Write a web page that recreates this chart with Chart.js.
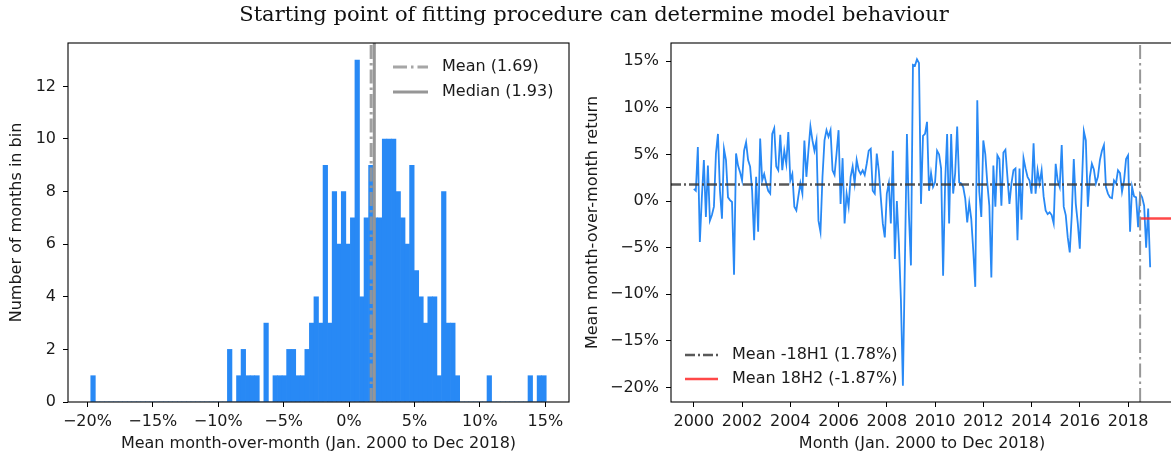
<!DOCTYPE html>
<html>
<head>
<meta charset="utf-8">
<script src="https://cdn.jsdelivr.net/npm/chart.js@4.4.1/dist/chart.umd.min.js"></script>
<style>
  html, body { margin: 0; padding: 0; background: #fff; overflow: hidden; width: 1171px; height: 457px; }
  .panel { position: absolute; top: 0; }
  #title { position: absolute; left: 0; top: 2px; width: 1188px; text-align: center;
           font-family: 'DejaVu Serif', serif; font-size: 21px; color: #111; white-space: nowrap; }
</style>
</head>
<body>
<div class="panel" style="left:0"><canvas id="hist" width="590" height="457"></canvas></div>
<div class="panel" style="left:576px"><canvas id="line" width="610" height="457"></canvas></div>
<div id="title">Starting point of fitting procedure can determine model behaviour</div>

<script>
// ---- left panel: histogram of the monthly changes (100 bins) ----
const histBinStart = -19.74;
const histBinWidth = 0.3481;
const histCounts = [
  1, 0, 0, 0, 0, 0, 0, 0, 0, 0,
  0, 0, 0, 0, 0, 0, 0, 0, 0, 0,
  0, 0, 0, 0, 0, 0, 0, 0, 0, 0,
  2, 0, 1, 2, 1, 1, 1, 0, 3, 0,
  1, 1, 1, 2, 2, 1, 1, 2, 3, 4,
  3, 9, 3, 8, 6, 8, 6, 7, 13, 4,
  7, 9, 7, 7, 10, 10, 10, 8, 7, 6,
  9, 5, 4, 3, 4, 4, 1, 8, 3, 3,
  1, 0, 0, 0, 0, 0, 0, 1, 0, 0,
  0, 0, 0, 0, 0, 0, 1, 0, 1, 1
];
const histMean = 1.69;
const histMedian = 1.93;
const histXTicks = [-20, -15, -10, -5, 0, 5, 10, 15];
const histYTicks = [0, 2, 4, 6, 8, 10, 12];
const histXRange = [-21.48, 16.81];
const histYRange = [0, 13.65];
const histXTitle = 'Mean month-over-month (Jan. 2000 to Dec 2018)';
const histYTitle = 'Number of months in bin';
const histLegend = ['Mean (1.69)', 'Median (1.93)'];

// ---- right panel: monthly series, Jan 2000 .. Dec 2018 ----
const firstYear = 2000;
const monthlyReturns = [
  1.3, 1.1, 5.8, -4.4, 0.4, 4.4, -1.7, 3.8, -2.1, -1.5, -0.6, 5.1,      // 2000
  7.2, 1.1, -1.9, 5.6, 4.4, 0.4, 0.1, -0.1, -7.9, 5.1, 3.8, 3.1,        // 2001
  2.2, 5.4, 6.3, 4.4, 3.7, 1.1, -4.2, 2.6, -3.3, 6.7, 2.2, 2.9,         // 2002
  1.9, 1.1, 0.8, 7.2, 7.8, 3.7, 3.3, 7.1, 3.3, 5.4, 4.0, 7.4,           // 2003
  2.2, 2.9, -0.6, -1.0, 0.5, 1.9, 0.8, 6.5, 2.6, 5.4, 8.0, 6.5,         // 2004
  5.4, 6.5, -2.1, -3.3, 2.6, 6.5, 7.6, 6.9, 7.6, 3.3, 2.8, 5.1,         // 2005
  7.6, -0.3, 4.6, -2.4, 0.8, -0.6, 2.6, 3.7, 1.9, 4.4, 3.3, 2.9,        // 2006
  3.3, 2.8, 4.0, 5.4, 5.6, 1.1, 0.8, 5.1, 3.3, 0.4, -2.4, -3.9,         // 2007
  0.8, 1.9, -2.4, 5.4, -6.2, 0.0, -4.5, -10.5, -19.8, -6.5, 7.2, -1.5,  // 2008
  -6.9, 14.6, 14.5, 15.2, 14.8, -0.3, 7.0, 7.2, 8.5, 1.1, 3.0, 1.5,     // 2009
  2.0, 5.4, 5.0, 3.5, -8.0, 1.9, 7.2, -2.4, 7.2, 0.8, 3.0, 8.0,         // 2010
  2.0, 1.9, 1.5, 0.3, -2.3, -0.2, -1.9, -5.3, -9.2, 10.8, 1.0, -1.7,    // 2011
  6.5, 5.0, 1.9, -0.5, -8.2, 3.8, -0.6, 4.9, 4.5, -0.5, 5.2, 5.5,       // 2012
  2.6, -0.3, 1.9, 3.3, 3.5, -4.2, 3.5, -2.0, 4.6, 3.5, 2.6, 2.2,        // 2013
  0.8, 6.2, 0.8, 3.3, 1.9, 3.3, 0.5, -1.0, -1.4, -1.2, -1.5, -2.4,      // 2014
  4.0, 2.2, 1.5, 6.0, -0.6, -1.5, -3.9, -5.5, -1.5, 4.5, -0.3, -2.4,    // 2015
  -5.1, 1.5, 7.5, 6.5, -0.6, 2.6, 4.0, 3.4, 1.9, 2.6, 4.4, 5.4,         // 2016
  6.0, 1.5, 0.8, 0.4, 0.3, 2.2, 1.9, 3.3, 3.0, 1.0, 2.2, 4.5,           // 2017
  4.9, -3.3, 1.5, 0.5, 0.4, -2.8, 0.8, 0.4, -0.5, -5.0, -0.8, -7.1      // 2018
];
const splitYear = 2018.5;
const meanBeforeSplit = 1.78;
const meanAfterSplit = -1.87;
const lineXTicks = [2000, 2002, 2004, 2006, 2008, 2010, 2012, 2014, 2016, 2018];
const lineYTicks = [-20, -15, -10, -5, 0, 5, 10, 15];
const lineXRange = [1999.054, 2019.863];
const lineYRange = [-21.55, 16.95];
const lineXTitle = 'Month (Jan. 2000 to Dec 2018)';
const lineYTitle = 'Mean month-over-month return';
const lineLegend = ['Mean -18H1 (1.78%)', 'Mean 18H2 (-1.87%)'];

// ---- styling ----
Chart.defaults.font.family = "'DejaVu Sans', sans-serif";
Chart.defaults.font.size = 16;
Chart.defaults.color = '#1a1a1a';

const INK = '#1a1a1a';
const BLUE = 'rgb(40,137,245)';
const DASHDOT = [14, 4, 2.5, 4];

const pct = v => (v < 0 ? '\u2212' : '') + Math.abs(v) + '%';

const framePlugin = {
  id: 'frame',
  afterDraw(chart) {
    const { ctx, chartArea: a } = chart;
    ctx.save();
    ctx.strokeStyle = '#000';
    ctx.lineWidth = 1.1;
    ctx.strokeRect(a.left, a.top, a.right - a.left, a.bottom - a.top);
    ctx.restore();
  }
};

// legend drawn inside the plot area, without a frame
function inlineLegend(items, place) {
  return {
    id: 'inlineLegend',
    afterDraw(chart) {
      const { ctx, chartArea } = chart;
      const p = place(chartArea);
      ctx.save();
      ctx.font = "16px 'DejaVu Sans'";
      ctx.textBaseline = 'middle';
      items.forEach((it, i) => {
        const y = p.y + i * p.gap;
        ctx.strokeStyle = it.color;
        ctx.lineWidth = it.width;
        ctx.setLineDash(it.dash || []);
        ctx.beginPath();
        ctx.moveTo(p.x, y);
        ctx.lineTo(p.x + p.sample, y);
        ctx.stroke();
        ctx.fillStyle = INK;
        ctx.fillText(it.label, p.x + p.textAt, y);
      });
      ctx.restore();
    }
  };
}

function axis(range, ticks, fmt, title, titlePad, fitSize, isX) {
  return {
    type: 'linear',
    min: range[0],
    max: range[1],
    offset: false,
    afterBuildTicks: s => { s.ticks = ticks.map(v => ({ value: v })); },
    afterFit: s => { if (isX) s.height = fitSize; else s.width = fitSize; },
    ticks: { callback: fmt, padding: isX ? 5 : 7, maxRotation: 0, autoSkip: false, color: INK },
    grid: { drawOnChartArea: false, tickLength: 5, tickColor: '#000', offset: false },
    border: { display: false },
    title: { display: true, text: title, color: INK, padding: titlePad }
  };
}

// ---- histogram ----
const histBars = histCounts.map((c, k) => ({ x: histBinStart + (k + 0.5) * histBinWidth, y: c }));

new Chart(document.getElementById('hist'), {
  type: 'bar',
  data: {
    datasets: [
      {
        type: 'line', label: histLegend[0], order: 0,
        data: [{ x: histMean, y: histYRange[0] }, { x: histMean, y: histYRange[1] }],
        borderColor: 'rgba(150,150,150,0.9)', borderWidth: 3, borderDash: DASHDOT, pointRadius: 0
      },
      {
        type: 'line', label: histLegend[1], order: 1,
        data: [{ x: histMedian, y: histYRange[0] }, { x: histMedian, y: histYRange[1] }],
        borderColor: 'rgb(150,150,150)', borderWidth: 3, pointRadius: 0
      },
      {
        type: 'bar', order: 2, data: histBars,
        backgroundColor: BLUE, borderWidth: 0, barPercentage: 1, categoryPercentage: 1
      }
    ]
  },
  options: {
    responsive: false, animation: false, events: [],
    layout: { padding: { top: 43, right: 21, left: 0, bottom: 0 } },
    plugins: { legend: { display: false }, tooltip: { enabled: false } },
    scales: {
      x: axis(histXRange, histXTicks, pct, histXTitle, { top: 0, bottom: 3.5 }, 55, true),
      y: axis(histYRange, histYTicks, v => String(v), histYTitle, { top: 7.4, bottom: 0 }, 68, false)
    }
  },
  plugins: [framePlugin, inlineLegend([
    { label: histLegend[0], color: 'rgba(150,150,150,0.85)', width: 3, dash: DASHDOT },
    { label: histLegend[1], color: 'rgb(150,150,150)', width: 3 }
  ], a => ({ x: a.left + 325, y: a.top + 24, gap: 25, sample: 35, textAt: 49 }))]
});

// ---- monthly line ----
const linePoints = monthlyReturns.map((v, i) => ({ x: firstYear + i / 12, y: v }));

new Chart(document.getElementById('line'), {
  type: 'line',
  data: {
    datasets: [
      {
        label: 'split', order: 0,
        data: [{ x: splitYear, y: lineYRange[0] }, { x: splitYear, y: lineYRange[1] }],
        borderColor: 'rgba(140,140,140,0.9)', borderWidth: 2, borderDash: DASHDOT, pointRadius: 0
      },
      {
        label: lineLegend[0], order: 1,
        data: [{ x: lineXRange[0], y: meanBeforeSplit }, { x: splitYear, y: meanBeforeSplit }],
        borderColor: 'rgba(60,60,60,0.85)', borderWidth: 2.5, borderDash: [10, 3, 2, 3], pointRadius: 0
      },
      {
        label: lineLegend[1], order: 2,
        data: [{ x: splitYear, y: meanAfterSplit }, { x: lineXRange[1], y: meanAfterSplit }],
        borderColor: 'rgba(255,40,40,0.85)', borderWidth: 2.5, pointRadius: 0
      },
      {
        label: 'monthly', order: 3, data: linePoints,
        borderColor: BLUE, borderWidth: 1.8, pointRadius: 0, tension: 0
      }
    ]
  },
  options: {
    responsive: false, animation: false, events: [],
    layout: { padding: { top: 43, right: 13, left: 0, bottom: 0 } },
    plugins: { legend: { display: false }, tooltip: { enabled: false } },
    scales: {
      x: axis(lineXRange, lineXTicks, v => String(v), lineXTitle, { top: 0, bottom: 3.5 }, 55, true),
      y: axis(lineYRange, lineYTicks, pct, lineYTitle, { top: 7.4, bottom: 0 }, 95, false)
    }
  },
  plugins: [framePlugin, inlineLegend([
    { label: lineLegend[0], color: 'rgba(60,60,60,0.85)', width: 2.5, dash: [10, 3, 2, 3] },
    { label: lineLegend[1], color: 'rgba(255,40,40,0.85)', width: 2.5 }
  ], a => ({ x: a.left + 14, y: a.bottom - 47, gap: 24, sample: 33, textAt: 47 }))]
});
</script>
</body>
</html>
